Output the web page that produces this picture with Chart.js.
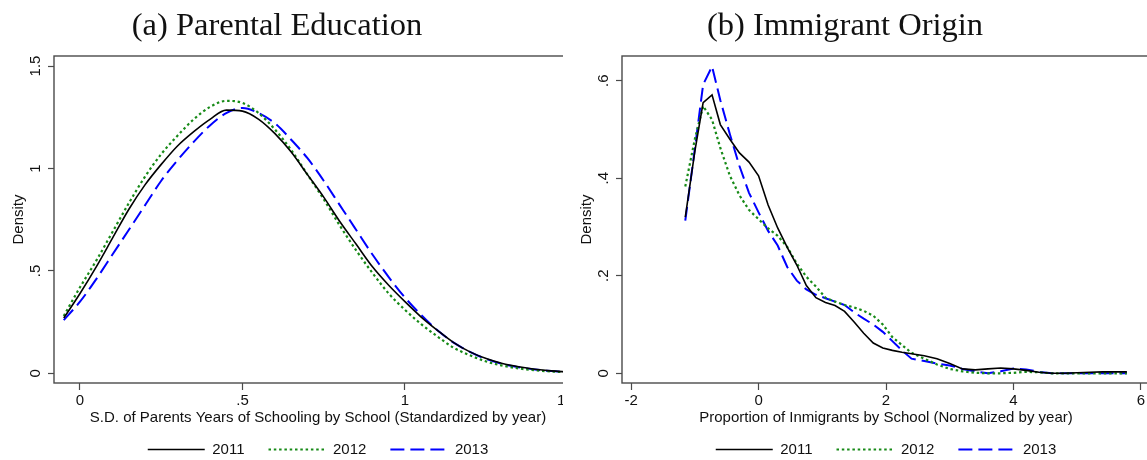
<!DOCTYPE html>
<html>
<head>
<meta charset="utf-8">
<title>Density plots</title>
<script src="https://cdn.jsdelivr.net/npm/chart.js@4.4.1/dist/chart.umd.min.js"></script>
<style>
    html, body { margin: 0; padding: 0; background: #fff; overflow: hidden; }
    body { width: 1147px; height: 460px; position: relative; }
    .panel { position: absolute; top: 0; height: 460px; overflow: hidden; }
    .panel canvas { position: absolute; left: 0; top: 0; }
    .ttl {
        position: absolute; top: 8px; left: 0; width: 554px;
        text-align: center; white-space: nowrap;
        font-family: "Liberation Serif", serif; font-size: 32.5px; line-height: 32px;
        color: #111;
    }
</style>
</head>
<body>

<div class="panel" style="left:0;width:563px">
    <canvas id="chartEdu" width="636" height="467"></canvas>
    <div class="ttl">(a) Parental Education</div>
</div>
<div class="panel" style="left:568px;width:579px">
    <canvas id="chartImm" width="636" height="467"></canvas>
    <div class="ttl">(b) Immigrant Origin</div>
</div>

<script>
// (a) Parental education
const eduX = [-0.05, 0, 0.05, 0.1, 0.15, 0.2, 0.25, 0.3, 0.35, 0.4, 0.45, 0.5, 0.55, 0.6, 0.65, 0.7,
    0.75, 0.8, 0.85, 0.9, 0.95, 1.0, 1.05, 1.1, 1.15, 1.2, 1.25, 1.3, 1.35, 1.4, 1.45, 1.5];
const edu2011 = [0.27, 0.39, 0.52, 0.66, 0.80, 0.92, 1.02, 1.11, 1.18, 1.24, 1.285, 1.28, 1.24, 1.17, 1.08, 0.97,
    0.86, 0.74, 0.63, 0.52, 0.43, 0.35, 0.275, 0.21, 0.15, 0.105, 0.072, 0.048, 0.032, 0.02, 0.012, 0.007];
const edu2012 = [0.28, 0.42, 0.55, 0.69, 0.83, 0.96, 1.07, 1.16, 1.24, 1.30, 1.33, 1.32, 1.27, 1.19, 1.09, 0.97,
    0.85, 0.72, 0.60, 0.49, 0.39, 0.31, 0.24, 0.18, 0.125, 0.088, 0.058, 0.038, 0.024, 0.015, 0.009, 0.005];
const edu2013 = [0.26, 0.35, 0.46, 0.58, 0.70, 0.82, 0.94, 1.04, 1.13, 1.21, 1.27, 1.295, 1.27, 1.22, 1.14, 1.05,
    0.94, 0.82, 0.70, 0.58, 0.47, 0.37, 0.285, 0.21, 0.15, 0.105, 0.07, 0.046, 0.03, 0.019, 0.011, 0.006];
const eduXTicks = [0, 0.5, 1, 1.5];
const eduYTicks = [0, 0.5, 1, 1.5];

// (b) Immigrant origin
const immX = [-1.15, -1.0, -0.87, -0.73, -0.6, -0.45, -0.3, -0.15, 0, 0.15, 0.3, 0.45, 0.6, 0.75, 0.9,
    1.05, 1.2, 1.35, 1.5, 1.65, 1.8, 1.95, 2.1, 2.25, 2.4, 2.6, 2.8, 3.0, 3.2, 3.4, 3.6, 3.8, 4.0,
    4.2, 4.4, 4.6, 4.8, 5.0, 5.2, 5.4, 5.6, 5.78];
const imm2011 = [0.32, 0.455, 0.555, 0.571, 0.51, 0.48, 0.452, 0.433, 0.405, 0.345, 0.298, 0.258, 0.222, 0.18, 0.155,
    0.145, 0.139, 0.127, 0.105, 0.082, 0.062, 0.052, 0.047, 0.043, 0.040, 0.036, 0.030, 0.020, 0.009, 0.007, 0.009, 0.011, 0.009,
    0.006, 0.002, 0, 0, 0.001, 0.002, 0.003, 0.003, 0.003];
const imm2012 = [0.383, 0.48, 0.548, 0.52, 0.462, 0.405, 0.365, 0.335, 0.316, 0.297, 0.282, 0.259, 0.225, 0.198, 0.178,
    0.155, 0.147, 0.14, 0.135, 0.128, 0.118, 0.1, 0.074, 0.058, 0.042, 0.03, 0.018, 0.009, 0.004, 0.001, 0, 0, 0.001,
    0.003, 0.002, 0, 0, 0, 0, 0, 0, 0];
const imm2013 = [0.313, 0.46, 0.592, 0.629, 0.56, 0.49, 0.425, 0.37, 0.33, 0.292, 0.262, 0.218, 0.19, 0.172, 0.161,
    0.154, 0.147, 0.14, 0.125, 0.112, 0.1, 0.085, 0.066, 0.047, 0.03, 0.025, 0.02, 0.016, 0.009, 0.004, 0, 0.004, 0.01,
    0.008, 0.003, 0, 0, 0, 0, 0, 0, 0];
const immXTicks = [-2, 0, 2, 4, 6];
const immYTicks = [0, 0.2, 0.4, 0.6];

const years = ["2011", "2012", "2013"];

Chart.defaults.font.family = "'Liberation Sans', Arial, Helvetica, sans-serif";
Chart.defaults.font.size = 15;
Chart.defaults.color = "#111";

const FRAME = "#4a4a4a";

// stata style labels: .5 instead of 0.5
function stataTick(v) {
    const s = String(Math.round(v * 100) / 100);
    return s.replace(/^0\./, ".").replace(/^-0\./, "-.");
}

function pts(xs, ys) {
    return xs.map((x, i) => ({ x: x, y: ys[i] }));
}

// box around the plot region
const framePlugin = {
    id: "frame",
    afterDraw(chart) {
        const a = chart.chartArea;
        const ctx = chart.ctx;
        ctx.save();
        ctx.strokeStyle = FRAME;
        ctx.lineWidth = 1.4;
        ctx.strokeRect(a.left, a.top, a.right - a.left, a.bottom - a.top);
        ctx.restore();
    }
};

function makeChart(id, xs, series, cfg) {
    const styles = [
        { color: "#000000", width: 1.6, dash: [] },
        { color: "#178a17", width: 2.2, dash: [2.5, 2.8] },
        { color: "#0000ff", width: 2, dash: [14, 6] }
    ];

    const datasets = series.map((ys, i) => ({
        label: years[i],
        data: pts(xs, ys),
        borderColor: styles[i].color,
        borderWidth: styles[i].width,
        borderDash: styles[i].dash,
        pointRadius: 0,
        fill: false,
        tension: cfg.tension,
        cubicInterpolationMode: cfg.tension > 0 ? "monotone" : "default"
    }));

    return new Chart(document.getElementById(id), {
        type: "line",
        data: { datasets: datasets },
        plugins: [framePlugin],
        options: {
            responsive: false,
            animation: false,
            devicePixelRatio: 1,
            layout: { padding: { top: 56, left: 0, right: 0, bottom: 0 } },
            scales: {
                x: {
                    type: "linear",
                    min: cfg.xMin,
                    max: cfg.xMax,
                    afterBuildTicks: ax => { ax.ticks = cfg.xTicks.map(v => ({ value: v })); },
                    afterFit: ax => { ax.height = 25.5; },
                    border: { display: false },
                    grid: { drawOnChartArea: false, tickLength: 7, tickColor: FRAME, tickWidth: 1.2 },
                    ticks: { padding: 2, maxRotation: 0, autoSkip: false, callback: stataTick }
                },
                y: {
                    type: "linear",
                    min: cfg.yMin,
                    max: cfg.yMax,
                    afterBuildTicks: ax => { ax.ticks = cfg.yTicks.map(v => ({ value: v })); },
                    afterFit: ax => { ax.width = 54; },
                    border: { display: false },
                    grid: { drawOnChartArea: false, tickLength: 6, tickColor: FRAME, tickWidth: 1.2 },
                    ticks: {
                        minRotation: 90, maxRotation: 90, crossAlign: "center",
                        padding: cfg.yPad, autoSkip: false, callback: stataTick
                    },
                    title: { display: true, text: "Density", padding: { top: 10, bottom: 0 } }
                }
            },
            plugins: {
                tooltip: { enabled: false },
                // x axis title, centred on the whole graph like stata does
                subtitle: {
                    display: true,
                    text: cfg.xTitle,
                    position: "bottom",
                    weight: 500,
                    padding: { top: 0, bottom: -8.5 },
                    font: { size: 15, weight: "normal" },
                    color: "#111"
                },
                legend: {
                    position: "bottom",
                    labels: {
                        usePointStyle: true,
                        pointStyleWidth: 57,
                        boxWidth: 57,
                        padding: 24,
                        color: "#111",
                        generateLabels: chart => chart.data.datasets.map((ds, i) => ({
                            text: ds.label,
                            datasetIndex: i,
                            hidden: false,
                            fontColor: "#111",
                            strokeStyle: ds.borderColor,
                            fillStyle: ds.borderColor,
                            lineWidth: ds.borderWidth,
                            lineDash: ds.borderDash,
                            lineCap: "butt",
                            pointStyle: "line"
                        }))
                    }
                }
            }
        }
    });
}

makeChart("chartEdu", eduX, [edu2011, edu2012, edu2013], {
    xMin: -0.08, xMax: 1.711, yMin: -0.047, yMax: 1.549,
    xTicks: eduXTicks, yTicks: eduYTicks, yPad: 1.3, tension: 0.4,
    xTitle: "S.D. of Parents Years of Schooling by School (Standardized by year)"
});

makeChart("chartImm", immX, [imm2011, imm2012, imm2013], {
    xMin: -2.143, xMax: 6.99, yMin: -0.0199, yMax: 0.6506,
    xTicks: immXTicks, yTicks: immYTicks, yPad: 5.5, tension: 0,
    xTitle: "Proportion of Inmigrants by School (Normalized by year)"
});
</script>
</body>
</html>
